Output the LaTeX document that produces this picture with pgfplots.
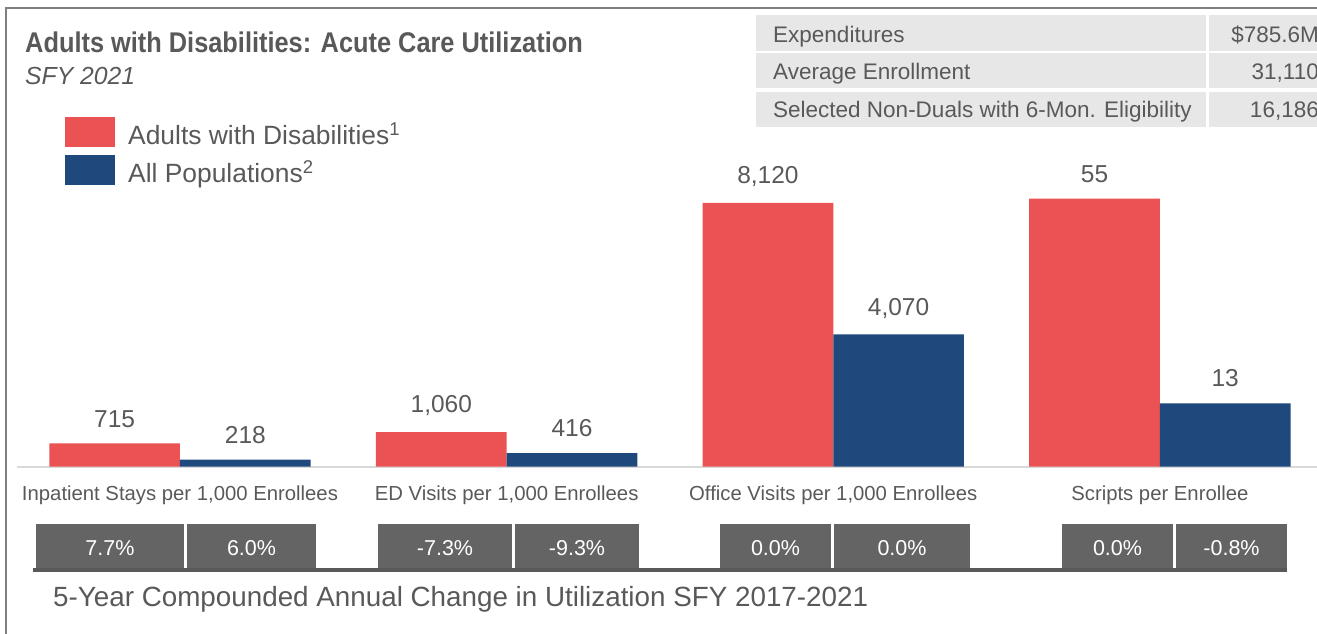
\documentclass[border=0pt]{standalone}
\usepackage{fontspec}
\setmainfont{Liberation Sans}
\newfontfamily\titlefont[UprightFont={* Bold},FakeStretch=0.89]{Liberation Sans}
\usepackage{pgfplots}
\usepackage{pgfplotstable}
\pgfplotsset{compat=1.18}
\definecolor{redc}{HTML}{EB5254}
\definecolor{bluec}{HTML}{1F497D}
\definecolor{boxc}{HTML}{646464}
\definecolor{txt}{HTML}{595959}
\definecolor{tblbg}{HTML}{E7E7E7}
\definecolor{axisc}{HTML}{D9D9D9}
\definecolor{framec}{HTML}{7F7F7F}
\definecolor{linec}{HTML}{595959}
\newcommand{\fs}[1]{\fontsize{#1pt}{#1pt}\selectfont}

% Scripts per Enrollee (55 and 13) are drawn on their own scale, 150 times the value
\pgfplotstableread{
x y label
0 715 715
1 1060 1,060
2 8120 8,120
3 8250 55
}\adults
\pgfplotstableread{
x y label
0 218 218
1 416 416
2 4070 4,070
3 1950 13
}\allpop

\begin{document}
\begin{tikzpicture}
\useasboundingbox (0,0) rectangle (1317pt,634pt);
\clip (0,0) rectangle (1317pt,634pt);
% frame
\draw[framec, line width=2.5pt] (6pt,0pt) -- (6pt,626pt) -- (1320pt,626pt);
% title
\node[anchor=base west, inner sep=0pt, text=txt] at (25pt,581pt) {\titlefont\fs{28.5}Adults with Disabilities: Acute Care Utilization};
\node[anchor=base west, inner sep=0pt, text=txt] at (25pt,549pt) {\fs{24.7}\itshape SFY 2021};
% summary table
\fill[tblbg] (756pt,583.3pt) rectangle (1206pt,619pt);
\fill[tblbg] (1209pt,583.3pt) rectangle (1320pt,619pt);
\fill[tblbg] (756pt,546pt) rectangle (1206pt,581pt);
\fill[tblbg] (1209pt,546pt) rectangle (1320pt,581pt);
\fill[tblbg] (756pt,507pt) rectangle (1206pt,542pt);
\fill[tblbg] (1209pt,507pt) rectangle (1320pt,542pt);
\node[anchor=base west, inner sep=0pt, text=txt] at (773pt,591.3pt) {\fs{22.5}Expenditures};
\node[anchor=base west, inner sep=0pt, text=txt] at (773pt,554pt) {\fs{22.5}Average Enrollment};
\node[anchor=base west, inner sep=0pt, text=txt] at (773pt,516pt) {\fs{22.5}Selected Non-Duals with 6-Mon. Eligibility};
\node[anchor=base east, inner sep=0pt, text=txt] at (1319pt,591.3pt) {\fs{22.5}\$785.6M};
\node[anchor=base east, inner sep=0pt, text=txt] at (1319pt,554pt) {\fs{22.5}31,110};
\node[anchor=base east, inner sep=0pt, text=txt] at (1319pt,516pt) {\fs{22.5}16,186};

\begin{axis}[
  at={(17pt,167.3pt)}, anchor=south west,
  scale only axis, width=1300pt, height=325pt,
  xmin=-0.499, xmax=3.481, ymin=0, ymax=10000,
  enlargelimits=false, clip=false,
  axis x line*=bottom, axis y line=none,
  x axis line style={-, draw=axisc, line width=2pt},
  ytick=\empty,
  xtick={0,1,2,3},
  xticklabels={{Inpatient Stays per 1,000 Enrollees},{ED Visits per 1,000 Enrollees},{Office Visits per 1,000 Enrollees},{Scripts per Enrollee}},
  major tick length=0pt,
  xticklabel style={anchor=base, yshift=-34.3pt, inner sep=0pt, text=txt, font=\fs{20.3}},
  ybar, bar width=0.4,
  nodes near coords,
  point meta=explicit symbolic,
  nodes near coords style={anchor=south, inner sep=0pt, yshift=16pt, text=txt, font=\fs{24.5}},
  legend style={at={(48pt,349.7pt)}, anchor=north west, draw=none, fill=none,
    font=\fs{26.4}, text=txt, row sep=7pt, column sep=11pt, inner sep=0pt, nodes={inner sep=2pt}},
  legend cell align=left,
  legend image code/.code={\fill[#1] (0pt,-13pt) rectangle (50pt,17pt);},
]
\addplot[fill=redc, draw=none, bar shift=-0.2] table[x=x, y=y, meta=label] {\adults};
\addplot[fill=bluec, draw=none, bar shift=0.2] table[x=x, y=y, meta=label] {\allpop};
\legend{Adults with Disabilities\textsuperscript{1}, All Populations\textsuperscript{2}}
\end{axis}

% 5-year change boxes
\fill[linec] (33pt,62pt) rectangle (1287pt,66pt);
\fill[boxc] (36pt,66pt) rectangle (184pt,110pt);
\fill[boxc] (187pt,66pt) rectangle (316pt,110pt);
\fill[boxc] (378pt,66pt) rectangle (512pt,110pt);
\fill[boxc] (515pt,66pt) rectangle (639pt,110pt);
\fill[boxc] (720pt,66pt) rectangle (831pt,110pt);
\fill[boxc] (834pt,66pt) rectangle (970pt,110pt);
\fill[boxc] (1062pt,66pt) rectangle (1173pt,110pt);
\fill[boxc] (1176pt,66pt) rectangle (1287pt,110pt);
\foreach \cx/\t in {110/7.7\%, 251.5/6.0\%, 445/-7.3\%, 577/-9.3\%, 775.5/0.0\%, 902/0.0\%, 1117.5/0.0\%, 1231.5/-0.8\%}
  \node[anchor=base, inner sep=0pt, text=white] at (\cx pt,78.3pt) {\fs{21.5}\t};
\node[anchor=base west, inner sep=0pt, text=txt] at (53pt,27pt) {\fs{27.8}5-Year Compounded Annual Change in Utilization SFY 2017-2021};
\end{tikzpicture}
\end{document}
